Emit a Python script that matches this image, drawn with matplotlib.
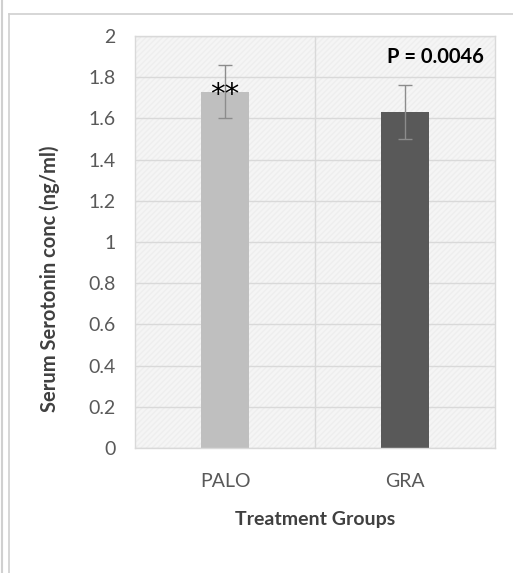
import matplotlib
matplotlib.use("Agg")
import matplotlib.pyplot as plt
from matplotlib.lines import Line2D

# --- Data
groups = ['PALO', 'GRA']
means = [1.73, 1.63]
errors = [0.13, 0.13]
bar_colors = ['#bfbfbf', '#595959']
yticks = [0, 0.2, 0.4, 0.6, 0.8, 1, 1.2, 1.4, 1.6, 1.8, 2]
ytick_labels = ['0', '0.2', '0.4', '0.6', '0.8', '1', '1.2', '1.4', '1.6', '1.8', '2']

plt.rcParams['font.family'] = ['Lato', 'DejaVu Sans']

# --- Plot
W, H = 513, 573
fig = plt.figure(figsize=(W / 100, H / 100), dpi=100)
fig.patch.set_facecolor('white')

ax = fig.add_axes([135 / W, 1 - 448 / H, 360 / W, 412 / H])
ax.set_facecolor('#f5f5f5')

x = list(range(len(groups)))
ax.set_xlim(-0.5, len(groups) - 0.5)
ax.set_ylim(0, 2)

# hatched plot area (Excel style pattern)
bg = plt.Rectangle((0, 0), 1, 1, transform=ax.transAxes, facecolor='none',
                   edgecolor='#eeeeee', hatch='//////', linewidth=0, zorder=0)
ax.add_patch(bg)

ax.set_yticks(yticks)
ax.set_yticklabels(ytick_labels)
ax.yaxis.grid(True, color='#d9d9d9', linewidth=1)
ax.set_axisbelow(True)
# vertical separator between categories
ax.axvline(0.5, color='#d9d9d9', linewidth=1, zorder=0.5)

ax.bar(x, means, width=0.27, color=bar_colors, zorder=2)
ax.errorbar(x, means, yerr=errors, fmt='none', ecolor='#8c8c8c',
            elinewidth=1, capsize=5, capthick=1, zorder=3)

ax.set_xticks(x)
ax.set_xticklabels(groups)
ax.tick_params(axis='both', length=0, labelsize=14, colors='#595959')
ax.tick_params(axis='x', pad=18)
ax.tick_params(axis='y', pad=14)

for s in ax.spines.values():
    s.set_color('#d9d9d9')
    s.set_linewidth(1)

ax.set_ylabel('Serum Serotonin conc (ng/ml)', fontsize=14.5, fontweight='bold',
              color='#404040')
ax.yaxis.set_label_coords(-0.208, 0.41)
ax.set_xlabel('Treatment Groups', fontsize=14, fontweight='bold', color='#404040')
ax.xaxis.set_label_coords(0.5, -0.152)

ax.text(0, means[0] - 0.015, '**', ha='center', va='center', fontsize=21,
        family='DejaVu Sans', color='black', zorder=4)
ax.text(0.97, 0.95, 'P = 0.0046', transform=ax.transAxes, ha='right',
        va='center', fontsize=14.5, fontweight='bold', color='black')

# chart border
fig.add_artist(Line2D([2 / W, 2 / W], [0, 1], color='#d0d0d0', linewidth=1.5))
fig.add_artist(Line2D([9 / W, 9 / W], [0, 1 - 14 / H], color='#d0d0d0', linewidth=1.2))
fig.add_artist(Line2D([9 / W, 1], [1 - 14 / H, 1 - 14 / H], color='#d0d0d0', linewidth=1.2))

fig.savefig('out.png', dpi=100)
